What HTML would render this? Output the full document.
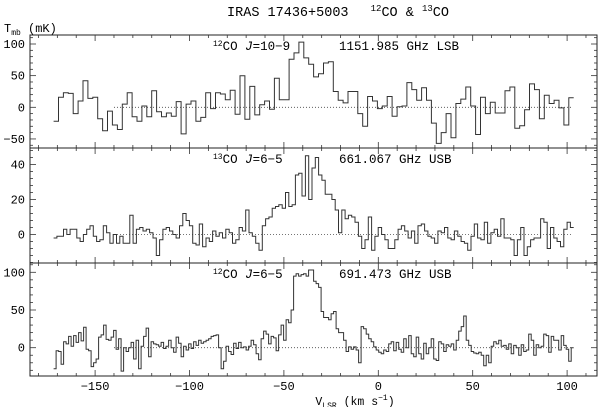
<!DOCTYPE html>
<html><head><meta charset="utf-8"><style>
html,body{margin:0;padding:0;background:#fff;}
svg{display:block;font-family:"Liberation Mono",monospace;}
</style></head><body>
<svg id="chart" width="600" height="407" viewBox="0 0 600 407" xmlns="http://www.w3.org/2000/svg">
<text x="338" y="16" font-size="13.5" text-anchor="middle">IRAS 17436+5003 <tspan dx="14" dy="-5" font-size="9">12</tspan><tspan dy="5">CO &amp; </tspan><tspan dy="-5" font-size="9">13</tspan><tspan dy="5">CO</tspan></text>
<text x="4" y="32" font-size="12">T<tspan font-size="8" dy="3">mb</tspan><tspan dy="-3"> (mK)</tspan></text>
<text x="355" y="405" font-size="11.5" text-anchor="middle">V<tspan font-size="8" dy="3">LSR</tspan><tspan dy="-3"> (km s</tspan><tspan font-size="8" dy="-5">−1</tspan><tspan dy="5">)</tspan></text>
<g id="panels"></g>
</svg>
<script>
const co109Values = [-22,16,23,22,-10,10,42,14,16,-18,-37,-6,-28,-35,5,23,-15,-22,2,-15,26,-7,-15,-9,-14,9,-42,5,10,-22,-16,23,-2,23,21,12,27,-11,50,-19,33,-12,4,10,-3,46,12,12,76,86,103,78,68,48,53,70,72,25,11,7,25,25,-10,-30,17,10,-2,2,17,-14,1,2,39,28,11,31,11,-25,-57,-40,-10,-48,6,13,32,2,-43,16,-10,8,-9,-9,26,32,-33,-29,-4,37,28,-18,19,6,11,-1,-28,15];
const co13Values = [-2,-1,-1,3,0,3,3,-2,-4,0,3,5,-1,-4,-3,5,1,-5,0,-5,-1,-5,-5,11,-5,3,4,2,3,1,-2,-12,-3,3,4,2,0,-2,5,12,8,5,-5,-6,6,-7,-2,-4,2,-1,1,-2,3,1,-5,-3,4,2,14,1,-1,-5,-9,5,9,10,15,16,17,15,24,16,17,34,35,22,45,
 20,38,44,34,31,23,23,20,14,1,14,9,11,10,7,-1,-8,-3,10,-9,-1,4,0,-3,-8,-8,-3,3,5,2,-2,2,-5,5,6,2,-1,-2,-5,2,1,4,-2,-3,2,-1,-4,-5,-9,-1,6,-2,-3,7,-5,1,3,-1,9,-2,-2,-3,-12,-3,4,-12,-7,-3,-2,-2,9,7,-8,4,-2,-4,-7,3,7,4];
const co65Values = [-28,-4,-5,-22,8,5,15,2,16,7,20,9,27,-2,-4,-25,-20,-15,14,17,30,11,10,14,23,-2,12,-31,0,-5,0,7,-15,10,-28,2,15,26,-12,8,5,4,2,7,-1,2,10,0,-6,14,6,-12,2,-3,5,-1,8,3,10,6,8,10,12,15,16,17,0,-28,-18,2,-5,-9,6,-1,7,0,1,-3,2,10,4,-8,-16,12,22,18,5,15,13,-4,17,30,10,37,33,50,95,98,95,97,98,95,103,
 103,88,85,80,48,40,40,37,45,48,25,20,20,10,-5,1,-2,1,-3,-20,28,25,18,12,8,1,-3,-6,-8,-3,-5,5,8,-4,7,-2,-6,12,0,16,-8,-12,14,-8,-15,6,-8,0,12,-15,-17,8,5,-5,4,2,5,-3,10,22,28,42,10,3,-5,-7,-8,-6,-10,-24,-10,-20,2,8,5,10,2,3,-2,5,-8,3,0,-10,4,-5,-3,18,10,-10,4,0,2,18,16,-6,15,10,10,-3,16,3,-2,-18,0];
const xTickLabels = [-150,-100,-50,0,50,100];
const panelLabels = [["12","CO ","J","=10−9","1151.985 GHz LSB"],["13","CO ","J","=6−5","661.067 GHz USB"],["12","CO ","J","=6−5","691.473 GHz USB"]];
const p1Ticks=[-50,0,50,100], p2Ticks=[0,20,40], p3Ticks=[0,50,100];

const NS="http://www.w3.org/2000/svg";
const X0=30,X1=597;
const xs = v => 378.3 + v*1.888;
const VSTART=-172, VEND=103.5;
const panels=[
 {top:35,bot:148,zero:107.3,scale:0.633,vals:co109Values,ticks:p1Ticks,minor:10,name:"co-10-9"},
 {top:148,bot:263,zero:234.5,scale:1.75,vals:co13Values,ticks:p2Ticks,minor:4,name:"13co-6-5"},
 {top:263,bot:376,zero:347.7,scale:0.754,vals:co65Values,ticks:p3Ticks,minor:10,name:"co-6-5"}
];
const root=document.getElementById('panels');
function mk(tag,attrs,parent){const e=document.createElementNS(NS,tag);for(const k in attrs)e.setAttribute(k,attrs[k]);(parent||root).appendChild(e);return e;}
panels.forEach((p,pi)=>{
 const g=mk('g',{});
 
 
 const ys=v=>p.zero - v*p.scale;
 const fr=mk('rect',{x:X0,y:p.top,width:X1-X0,height:p.bot-p.top,fill:'none',stroke:'#222','stroke-width':1},g);
 
 
 for(let v=-180;v<=110;v+=10){
  const x=xs(v); if(x<X0||x>X1) continue;
  const L=(v%50===0)?6:3;
  mk('line',{x1:x,x2:x,y1:p.bot,y2:p.bot-L,stroke:'#333','stroke-width':0.8},g);
  mk('line',{x1:x,x2:x,y1:p.top,y2:p.top+L,stroke:'#333','stroke-width':0.8},g);
 }
 const vmin=(p.zero-p.bot)/p.scale, vmax=(p.zero-p.top)/p.scale;
 for(let v=Math.ceil(vmin/p.minor)*p.minor; v<=vmax; v+=p.minor){
  const y=ys(v); const major=p.ticks.includes(v); const L=major?6:3;
  mk('line',{x1:X0,x2:X0+L,y1:y,y2:y,stroke:'#333','stroke-width':0.8},g);
  mk('line',{x1:X1,x2:X1-L,y1:y,y2:y,stroke:'#333','stroke-width':0.8},g);
 }
 p.ticks.forEach(v=>{
  const t=mk('text',{x:25,y:ys(v)+4,'font-size':12,'text-anchor':'end'},g);
  t.textContent=(v<0?'−':'')+Math.abs(v);
  
  
 });
 const zl=mk('line',{x1:xs(-140),x2:xs(103),y1:ys(0),y2:ys(0),stroke:'#444','stroke-width':0.8,'stroke-dasharray':'1,2'},g);
 
 
 const n=p.vals.length, dv=(VEND-VSTART)/n;
 let d='M'+xs(VSTART).toFixed(1)+','+ys(p.vals[0]).toFixed(1);
 for(let i=0;i<n;i++){
  if(i>0) d+='V'+ys(p.vals[i]).toFixed(1);
  d+='H'+xs(VSTART+(i+1)*dv).toFixed(1);
 }
 const path=mk('path',{d:d,fill:'none',stroke:'#333','stroke-width':1},g);
 
 
 const lb=panelLabels[pi];
 const t1=mk('text',{x:213,y:p.top+15,'font-size':12.5},g);
 t1.innerHTML='<tspan font-size="8" dy="-4">'+lb[0]+'</tspan><tspan dy="4">'+lb[1]+'</tspan><tspan font-style="italic">'+lb[2]+'</tspan><tspan>'+lb[3]+'</tspan>';
 
 
 const t2=mk('text',{x:339,y:p.top+15,'font-size':12.5},g);
 t2.textContent=lb[4];
 
 
 if(pi===2){
  xTickLabels.forEach(v=>{
   const t=mk('text',{x:xs(v),y:390,'font-size':12,'text-anchor':'middle'},g);
   t.textContent=(v<0?'−':'')+Math.abs(v);
   
   
  });
 }
});
</script>
</body></html>
